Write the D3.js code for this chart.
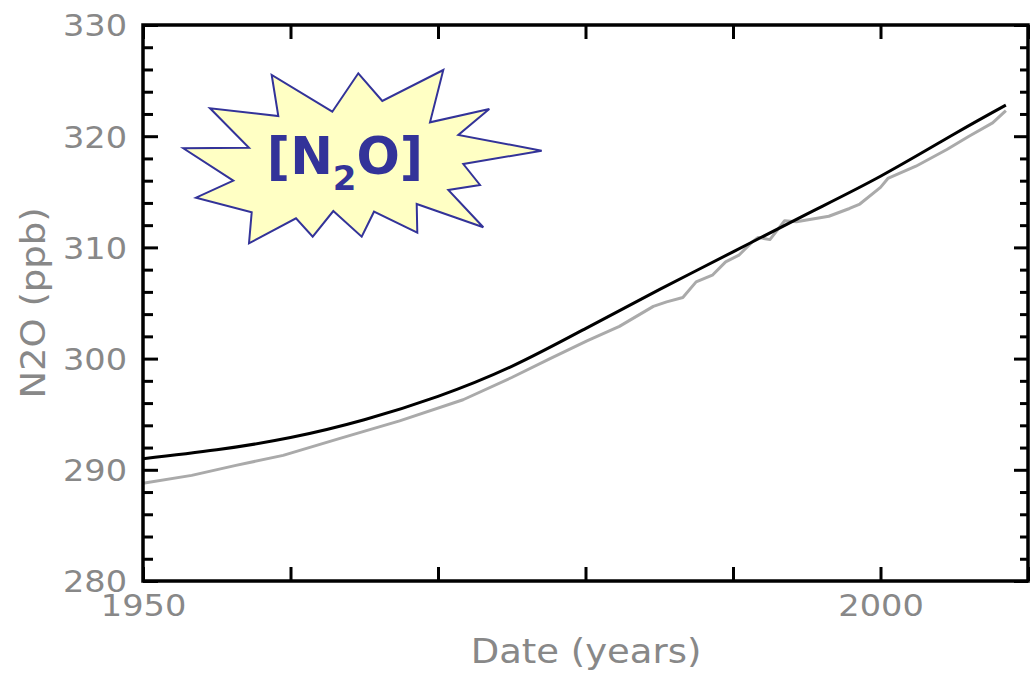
<!DOCTYPE html>
<html>
<head>
<meta charset="utf-8">
<script src="https://cdn.jsdelivr.net/npm/d3@7"></script>
<style>
  html, body { margin: 0; padding: 0; background: #fff; }
  svg { display: block; }
</style>
</head>
<body>
<svg id="chart" width="1035" height="677"></svg>
<script>
// Modelled N2O concentration (smooth curve), ppb
const modelYears = [1950, 1955, 1960, 1965, 1970, 1975, 1980, 1985, 1990, 1995, 2000, 2005, 2008.5];
const modelN2O   = [291.0, 291.8, 292.9, 294.5, 296.6, 299.3, 302.7, 306.2, 309.6, 313.0, 316.4, 320.2, 322.8];

// Observed N2O record, ppb
const obsYears = [1950.0, 1953.3, 1956.3, 1959.5, 1963.3, 1967.4, 1971.7, 1975.0, 1977.6, 1980.1,
                  1982.3, 1984.6, 1985.5, 1986.6, 1987.5, 1988.6, 1989.5, 1990.4, 1991.3, 1991.7,
                  1992.5, 1993.5, 1994.3, 1996.5, 1997.9, 1998.6, 2000.0, 2000.5, 2002.4, 2004.5,
                  2006.0, 2007.6, 2008.5];
const obsN2O   = [288.8, 289.5, 290.4, 291.3, 292.8, 294.4, 296.3, 298.3, 300.0, 301.6,
                  302.9, 304.7, 305.1, 305.5, 306.9, 307.5, 308.7, 309.3, 310.5, 310.9,
                  310.7, 312.4, 312.3, 312.8, 313.5, 313.9, 315.4, 316.2, 317.3, 318.8,
                  320.0, 321.2, 322.3];

// Axis ticks and labels
const xDomain = [1950, 2010];
const yDomain = [280, 330];
const xTicks = [1950, 1960, 1970, 1980, 1990, 2000, 2010];
const xTickLabels = [1950, 2000];
const yTicks = [280, 290, 300, 310, 320, 330];
const yMinorTicks = d3.range(280, 331, 2).filter(v => v % 10 !== 0);
const xTitle = "Date (years)";
const yTitle = "N2O (ppb)";

const W = 1035, H = 677;
const margin = { top: 25, right: 7, bottom: 96, left: 143 };
const svg = d3.select("#chart");

const x = d3.scaleLinear().domain(xDomain).range([margin.left, W - margin.right]);
const y = d3.scaleLinear().domain(yDomain).range([H - margin.bottom, margin.top]);

const labelFont = "DejaVu Sans, Verdana, sans-serif";
const labelColor = "#888888";

// Data lines
const obsLine = d3.line().x((d, i) => x(obsYears[i])).y(d => y(d)).curve(d3.curveLinear);
svg.append("path")
  .attr("d", obsLine(obsN2O))
  .attr("fill", "none")
  .attr("stroke", "#aaaaaa")
  .attr("stroke-width", 3)
  .attr("stroke-linejoin", "round");

const modelLine = d3.line().x((d, i) => x(modelYears[i])).y(d => y(d)).curve(d3.curveNatural);
svg.append("path")
  .attr("d", modelLine(modelN2O))
  .attr("fill", "none")
  .attr("stroke", "#000")
  .attr("stroke-width", 3)
  .attr("stroke-linejoin", "round");

// Axes: ticks point inward on all four sides
function styleAxis(g) {
  g.select(".domain").remove();
  g.selectAll(".tick line").attr("stroke", "#000").attr("stroke-width", 3);
  g.selectAll(".tick text")
    .attr("fill", labelColor)
    .style("font-family", labelFont)
    .style("font-size", "30px");
}

const bottom = svg.append("g")
  .attr("transform", `translate(0,${H - margin.bottom})`)
  .call(d3.axisBottom(x).tickValues(xTicks).tickSize(-14)
    .tickFormat(d => xTickLabels.includes(d) ? String(d) : ""))
  .call(styleAxis);
bottom.selectAll(".tick text").attr("y", 35).attr("dy", 0);

svg.append("g")
  .attr("transform", `translate(0,${margin.top})`)
  .call(d3.axisTop(x).tickValues(xTicks).tickSize(-14).tickFormat(""))
  .call(styleAxis);

const left = svg.append("g")
  .attr("transform", `translate(${margin.left},0)`)
  .call(d3.axisLeft(y).tickValues(yTicks).tickSize(-15).tickPadding(16).tickFormat(d3.format("d")))
  .call(styleAxis);
left.selectAll(".tick text").attr("dy", "0.36em");

svg.append("g")
  .attr("transform", `translate(${margin.left},0)`)
  .call(d3.axisLeft(y).tickValues(yMinorTicks).tickSize(-10).tickFormat(""))
  .call(styleAxis);

svg.append("g")
  .attr("transform", `translate(${W - margin.right},0)`)
  .call(d3.axisRight(y).tickValues(yTicks).tickSize(-14).tickFormat(""))
  .call(styleAxis);

svg.append("g")
  .attr("transform", `translate(${W - margin.right},0)`)
  .call(d3.axisRight(y).tickValues(yMinorTicks).tickSize(-8).tickFormat(""))
  .call(styleAxis);

// Plot frame
svg.append("rect")
  .attr("x", margin.left)
  .attr("y", margin.top)
  .attr("width", W - margin.left - margin.right)
  .attr("height", H - margin.top - margin.bottom)
  .attr("fill", "none")
  .attr("stroke", "#000")
  .attr("stroke-width", 3.5);

// Axis titles
svg.append("text")
  .attr("class", "title")
  .attr("x", 586)
  .attr("y", 663)
  .attr("text-anchor", "middle")
  .attr("fill", labelColor)
  .style("font-family", labelFont)
  .style("font-size", "33px")
  .text(xTitle);

svg.append("text")
  .attr("class", "title")
  .attr("transform", "translate(45,303) rotate(-90)")
  .attr("text-anchor", "middle")
  .attr("fill", labelColor)
  .style("font-family", labelFont)
  .style("font-size", "33px")
  .text(yTitle);

// Widen the axis lettering slightly
svg.selectAll(".tick text, text.title").each(function () {
  const len = this.getComputedTextLength();
  if (len > 0) {
    d3.select(this).attr("textLength", len * 1.12).attr("lengthAdjust", "spacingAndGlyphs");
  }
});

// Starburst badge with the species name
const burst = [
  [271.7, 75], [278.3, 116], [210, 108.3], [249, 147.7], [183.3, 148.3], [233.3, 180.7],
  [196, 197.7], [251.7, 212.3], [249, 243.3], [296, 218.3], [312.7, 236.7], [333.3, 211],
  [361.7, 236.7], [374, 211.7], [417.3, 232.7], [416.7, 204], [483.3, 227.3], [448.3, 190],
  [480, 185], [463.3, 164], [541.7, 150.7], [458.3, 135], [489.3, 109], [430, 122.3],
  [443.3, 70], [382.3, 101], [358.3, 73.3], [332.3, 111.7]
];
svg.append("polygon")
  .attr("points", burst.map(p => p.join(",")).join(" "))
  .attr("fill", "#ffffc4")
  .attr("stroke", "#333399")
  .attr("stroke-width", 2)
  .attr("stroke-linejoin", "miter");

const badge = svg.append("text")
  .attr("x", 345)
  .attr("y", 174)
  .attr("text-anchor", "middle")
  .attr("fill", "#333399")
  .style("font-family", "DejaVu Sans, Verdana, sans-serif")
  .style("font-weight", "bold")
  .style("font-size", "51px");
badge.append("tspan").text("[N");
badge.append("tspan").attr("dy", 16).style("font-size", "34px").text("2");
badge.append("tspan").attr("dy", -16).text("O]");
</script>
</body>
</html>
